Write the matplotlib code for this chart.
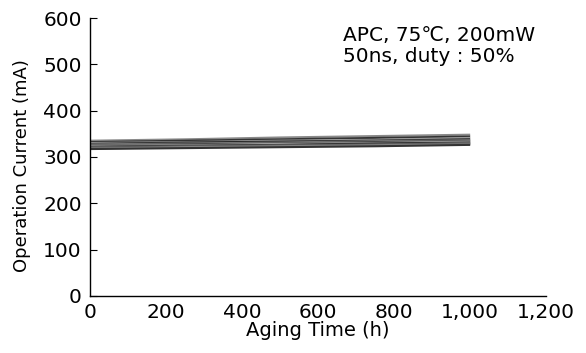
import numpy as np
import matplotlib
matplotlib.use("Agg")
import matplotlib.pyplot as plt

plt.rcParams['font.family'] = ['DejaVu Sans', 'Noto Sans CJK JP']

# aging time (h) at which the curves are read
hours = [0, 250, 500, 750, 1000]

# operation current (mA) per sample
sample_01 = [335, 338, 342, 345, 348]
sample_02 = [332, 335, 338, 341, 344]
sample_03 = [330, 332, 335, 337, 341]
sample_04 = [328, 331, 333, 335, 338]
sample_05 = [327, 329, 331, 334, 336]
sample_06 = [325, 327, 329, 332, 334]
sample_07 = [324, 325, 328, 330, 333]
sample_08 = [322, 324, 326, 329, 331]
sample_09 = [321, 323, 325, 327, 330]
sample_10 = [320, 322, 324, 326, 328]
sample_11 = [318, 321, 323, 325, 327]
sample_12 = [317, 319, 321, 323, 326]

samples = [sample_01, sample_02, sample_03, sample_04, sample_05, sample_06,
           sample_07, sample_08, sample_09, sample_10, sample_11, sample_12]
shades = ["#8a8a8a", "#333333", "#999999", "#222222", "#777777", "#444444",
          "#aaaaaa", "#222222", "#666666", "#555555", "#888888", "#333333"]

xticks = [0, 200, 400, 600, 800, 1000, 1200]
xtick_labels = ["0", "200", "400", "600", "800", "1,000", "1,200"]
yticks = [0, 100, 200, 300, 400, 500, 600]

fig = plt.figure(figsize=(5.86, 3.53), dpi=100)
ax = fig.add_axes([0.154, 0.162, 0.778, 0.787])

for vals, c in zip(samples, shades):
    ax.plot(hours, vals, color=c, lw=1.5, solid_capstyle="butt")

ax.set_xlim(0, 1200)
ax.set_ylim(0, 600)
ax.set_xticks(xticks)
ax.set_xticklabels(xtick_labels)
ax.set_yticks(yticks)

for side in ["top", "right"]:
    ax.spines[side].set_visible(False)
ax.spines["left"].set_linewidth(1.0)
ax.spines["bottom"].set_linewidth(1.0)
ax.tick_params(axis="y", direction="in", length=5, labelsize=14.5, pad=6)
ax.tick_params(axis="x", direction="in", length=0, labelsize=14.5, pad=5)

ax.set_xlabel("Aging Time (h)", fontsize=14)
ax.set_ylabel("Operation Current (mA)", fontsize=13)
ax.xaxis.set_label_coords(0.5, -0.09)
ax.yaxis.set_label_coords(-0.13, 0.47)

ax.text(0.555, 0.97, "APC, 75℃, 200mW\n50ns, duty : 50%", transform=ax.transAxes,
        fontsize=14.5, va="top", ha="left", linespacing=1.1)

fig.savefig("out.png", dpi=100)
